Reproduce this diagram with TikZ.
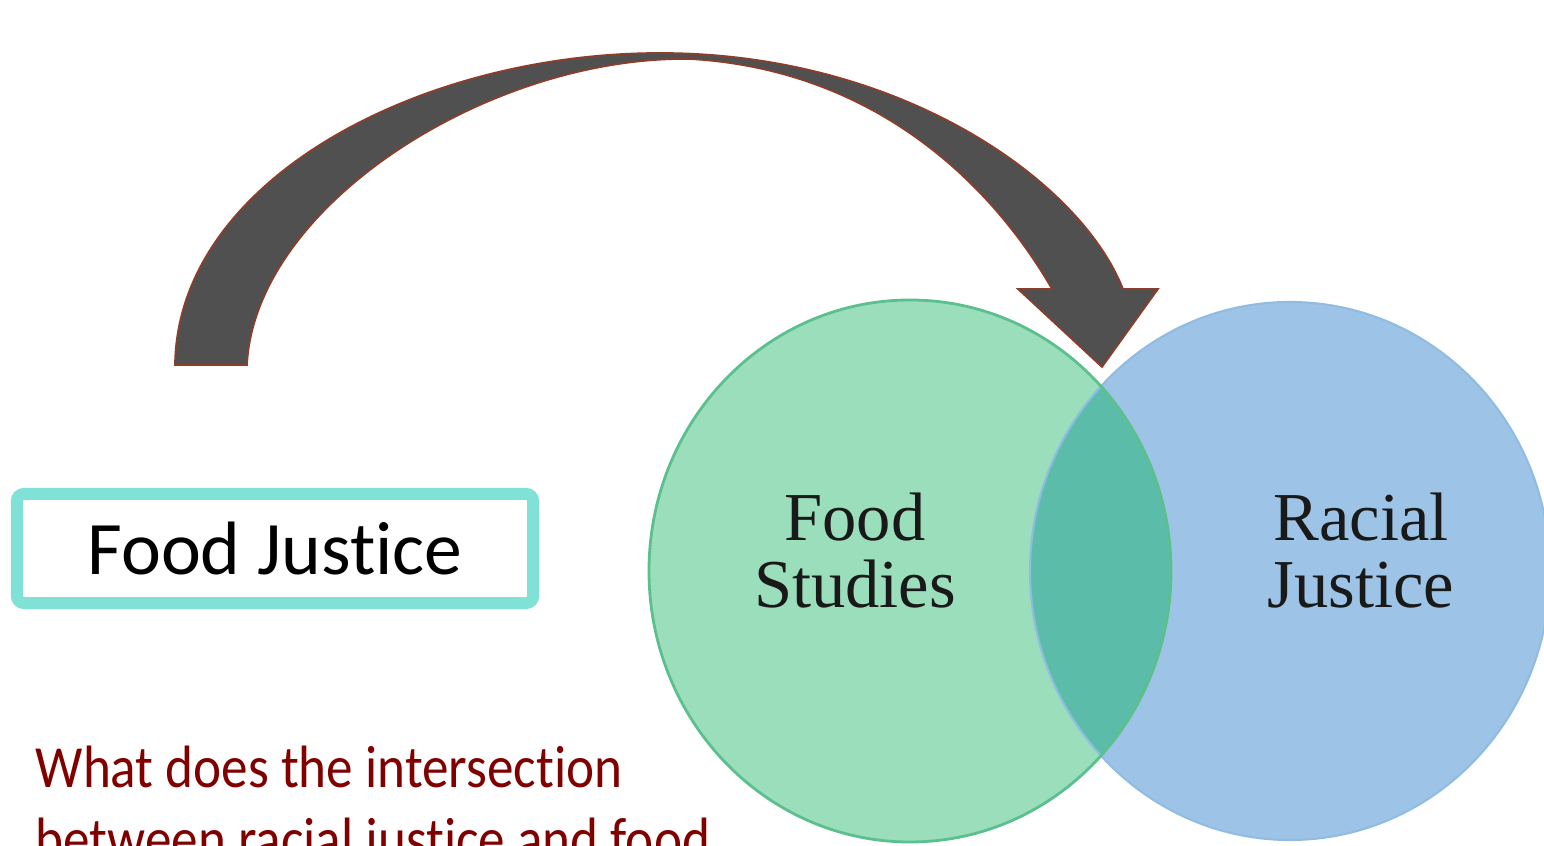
\documentclass[tikz,border=0pt]{standalone}
\usepackage{fontspec}
\setmainfont[Ligatures=NoCommon]{Carlito}
\newfontfamily\askfont[Ligatures=NoCommon, FakeStretch=0.89]{Carlito}
\newfontfamily\vennfont{Liberation Serif}
\usetikzlibrary{positioning}

\definecolor{boxaqua}{RGB}{128,226,214}
\definecolor{foodgreen}{RGB}{155,222,188}
\definecolor{foodline}{RGB}{92,192,142}
\definecolor{raceblue}{RGB}{157,196,230}
\definecolor{raceline}{RGB}{145,188,226}
\definecolor{lensteal}{RGB}{92,188,170}
\definecolor{arrowgray}{RGB}{80,80,80}
\definecolor{arrowrim}{RGB}{140,62,42}
\definecolor{askred}{RGB}{128,0,0}

\tikzset{
  TitleBox/.style = {draw = boxaqua, line width = 3.4pt, rounded corners = 2pt,
    minimum width = 5.16cm, minimum height = 1.09cm, inner sep = 0pt,
    font = \fontsize{21.5}{26}\selectfont},
  VennLabel/.style = {align = center, inner sep = 0pt, text = black!90,
    font = \vennfont\fontsize{19.5}{19.3}\selectfont},
  AskText/.style = {align = left, inner sep = 0pt, text = askred,
    font = \askfont\fontsize{17}{20.5}\selectfont}
}

\begin{document}
\begin{tikzpicture}[x=0.01cm, y=-0.01cm]
\useasboundingbox (0,0) rectangle (1544,846);
% venn circles
\fill[foodgreen] (910,571) ellipse [x radius=261, y radius=271];
\fill[raceblue] (1290,571) ellipse [x radius=260, y radius=269];
\begin{scope}
  \clip (910,571) ellipse [x radius=261, y radius=271];
  \fill[lensteal] (1290,571) ellipse [x radius=260, y radius=269];
\end{scope}
\draw[raceline, line width=0.6pt] (1290,571) ellipse [x radius=260, y radius=269];
\draw[foodline, line width=0.8pt] (910,571) ellipse [x radius=261, y radius=271];

% curved arrow
\filldraw[fill=arrowgray, draw=arrowrim, line width=0.5pt, line join=miter]
  (175,365) .. controls (177,180) and (420,53) .. (660,53)
  .. controls (900,53) and (1080,180) .. (1123,289)
  -- (1158,289) -- (1102,367) -- (1018,289) -- (1052,289)
  .. controls (995,190) and (880,70) .. (690,59)
  .. controls (490,56) and (255,205) .. (247,365)
  -- cycle;

\node[TitleBox] (fj) at (275,548.5) {Food Justice};
\node[VennLabel, anchor=base] (fs) at (855,608) {Food\\Studies};
\node[VennLabel, anchor=base] (rj) at (1361,608) {Racial\\Justice};
\node[AskText, anchor=base west] (ask) at (35,860)
  {What does the intersection\\between racial justice and food};
\end{tikzpicture}
\end{document}
